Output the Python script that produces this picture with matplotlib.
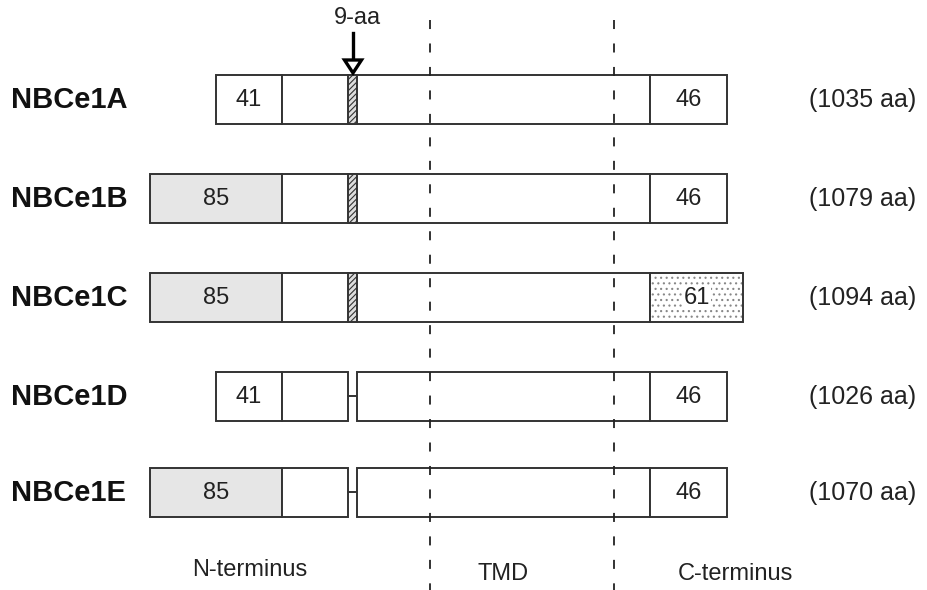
import matplotlib
matplotlib.use("Agg")
import matplotlib.pyplot as plt
from matplotlib.patches import Rectangle, Polygon

plt.rcParams['font.family'] = ['Liberation Sans', 'DejaVu Sans']
plt.rcParams['hatch.linewidth'] = 0.8

# isoform data
names = ["NBCe1A", "NBCe1B", "NBCe1C", "NBCe1D", "NBCe1E"]
total_aa = [1035, 1079, 1094, 1026, 1070]
nterm_aa = [41, 85, 85, 41, 85]
cterm_aa = [46, 46, 61, 46, 46]
has_9aa = [True, True, True, False, False]
region_labels = ["N-terminus", "TMD", "C-terminus"]

# layout (pixel coordinates)
row_y = [99, 198, 297, 396, 492]
box_h = 49
nterm_left = {41: 216, 85: 150}
div_x = 282
ins_x0, ins_x1 = 348, 357
c_x0 = 650
c_right = {46: 727, 61: 743}
tmd_lines = [430, 614]
edge = "#333333"
txt = "#222222"
lw = 1.4

fig = plt.figure(figsize=(9.28, 5.9), dpi=100)
ax = fig.add_axes([0, 0, 1, 1])
ax.set_xlim(0, 928)
ax.set_ylim(590, 0)
ax.axis("off")

for name, tot, nt, ct, ins, y in zip(names, total_aa, nterm_aa, cterm_aa, has_9aa, row_y):
    top = y - box_h / 2
    left = nterm_left[nt]
    right = c_right[ct]
    # N-terminal variable box
    fc = "#e6e6e6" if nt == 85 else "white"
    ax.add_patch(Rectangle((left, top), div_x - left, box_h, fc=fc, ec=edge, lw=lw, zorder=2))
    ax.text((left + div_x) / 2, y + 1, str(nt), ha="center", va="center", fontsize=17, color=txt, zorder=4)
    if ins:
        ax.add_patch(Rectangle((div_x, top), c_x0 - div_x, box_h, fc="white", ec=edge, lw=lw, zorder=2))
        ax.add_patch(Rectangle((ins_x0, top), ins_x1 - ins_x0, box_h, fc="#dddddd", ec=edge,
                               lw=lw, hatch="//////", zorder=3))
    else:
        ax.add_patch(Rectangle((div_x, top), ins_x0 - div_x, box_h, fc="white", ec=edge, lw=lw, zorder=2))
        ax.plot([ins_x0, ins_x1], [y, y], color=edge, lw=lw, zorder=2)
        ax.add_patch(Rectangle((ins_x1, top), c_x0 - ins_x1, box_h, fc="white", ec=edge, lw=lw, zorder=2))
    # C-terminal box
    if ct == 61:
        ax.add_patch(Rectangle((c_x0, top), right - c_x0, box_h, fc="white", ec="#888888", lw=0,
                               hatch="...", zorder=2))
        ax.add_patch(Rectangle((c_x0, top), right - c_x0, box_h, fc="none", ec=edge, lw=lw, zorder=3))
        ax.text((c_x0 + right) / 2, y + 1, str(ct), ha="center", va="center", fontsize=17, color=txt,
                zorder=4, bbox=dict(fc="white", ec="none", pad=1))
    else:
        ax.add_patch(Rectangle((c_x0, top), right - c_x0, box_h, fc="white", ec=edge, lw=lw, zorder=2))
        ax.text((c_x0 + right) / 2, y + 1, str(ct), ha="center", va="center", fontsize=17, color=txt, zorder=4)
    ax.text(11, y + 1, name, ha="left", va="center", fontsize=21, fontweight="bold", color="#111111")
    ax.text(809, y + 1, "(%d aa)" % tot, ha="left", va="center", fontsize=18, color=txt)

# dashed domain boundaries
for xl in tmd_lines:
    ax.plot([xl, xl], [20, 590], color="#222222", lw=1.3, dashes=(5, 8), zorder=5)

# 9-aa insertion arrow
ax_x = (ins_x0 + ins_x1) / 2 + 0.5
ax.plot([ax_x, ax_x], [33, 62], color="black", lw=2.4, zorder=6)
ax.add_patch(Polygon([[ax_x - 8.5, 60], [ax_x + 8.5, 60], [ax_x, 73]], closed=True,
                     fc="white", ec="black", lw=2.4, zorder=6))
ax.text(ax_x + 4, 18, "9-aa", ha="center", va="center", fontsize=17, color=txt)

# region labels
for lab, xc, yc in zip(region_labels, [250, 503, 735], [570, 574, 574]):
    ax.text(xc, yc, lab, ha="center", va="center", fontsize=17, color=txt)

fig.savefig("out.png", dpi=100)
